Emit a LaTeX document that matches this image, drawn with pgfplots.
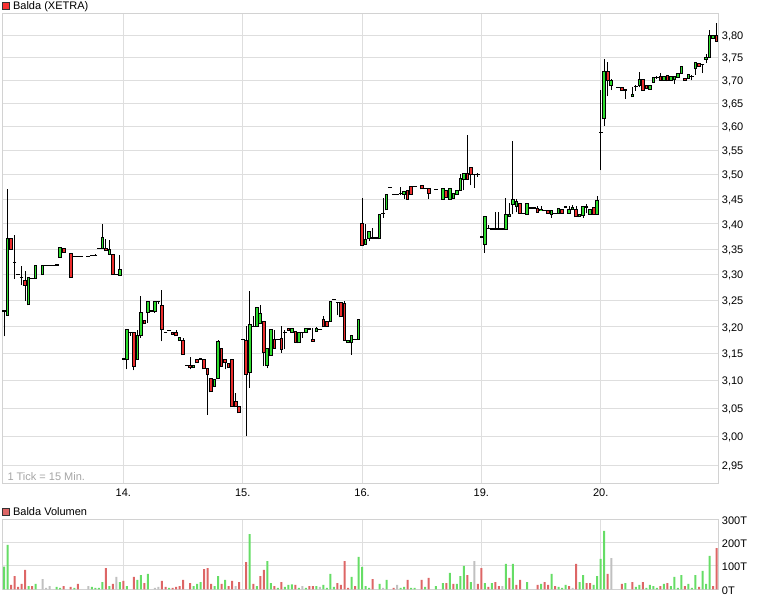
\documentclass[border=0pt]{standalone}
\usepackage{fontspec}
\setmainfont{Liberation Sans}
\usepackage{pgfplots}
\pgfplotsset{compat=1.18}
\usepackage{pgfplotstable}

\definecolor{cgreen}{RGB}{45,220,45}
\definecolor{cred}{RGB}{235,45,45}
\definecolor{vgreen}{RGB}{102,221,102}
\definecolor{vred}{RGB}{221,102,102}
\definecolor{vgray}{RGB}{192,192,192}
\definecolor{gridc}{RGB}{222,222,222}
\definecolor{framec}{RGB}{210,210,210}
\definecolor{notec}{RGB}{165,165,165}
\definecolor{keyred}{RGB}{250,50,50}

\newcommand{\cf}{\fontsize{11}{12.5}\selectfont}

% 15-min candles, 34 per day, index 0 = 13. 9:00
% up candles: i open high low close
\pgfplotstableread{
i o h l c
1 3.222 3.471 3.222 3.370
7 3.242 3.294 3.242 3.294
9 3.292 3.317 3.292 3.317
11 3.300 3.317 3.300 3.317
16 3.334 3.354 3.334 3.354
28 3.352 3.400 3.352 3.373
30 3.340 3.367 3.340 3.350
33 3.299 3.339 3.299 3.310
35 3.140 3.195 3.121 3.195
38 3.139 3.195 3.139 3.183
39 3.183 3.258 3.180 3.227
41 3.227 3.249 3.208 3.249
43 3.230 3.249 3.227 3.249
50 3.174 3.181 3.174 3.181
54 3.125 3.128 3.125 3.128
60 3.090 3.103 3.090 3.103
61 3.104 3.176 3.104 3.173
70 3.116 3.268 3.087 3.205
72 3.201 3.236 3.201 3.236
73 3.207 3.242 3.207 3.225
75 3.128 3.160 3.123 3.160
76 3.146 3.195 3.146 3.195
82 3.189 3.198 3.189 3.198
84 3.170 3.190 3.170 3.190
86 3.190 3.196 3.190 3.196
89 3.192 3.200 3.192 3.196
93 3.210 3.249 3.210 3.249
98 3.171 3.175 3.171 3.175
99 3.170 3.183 3.148 3.183
101 3.177 3.214 3.177 3.214
103 3.359 3.400 3.359 3.369
104 3.370 3.384 3.366 3.384
107 3.370 3.420 3.370 3.420
109 3.428 3.460 3.428 3.460
114 3.460 3.465 3.450 3.465
125 3.450 3.471 3.450 3.471
127 3.450 3.471 3.450 3.471
128 3.451 3.462 3.451 3.462
129 3.459 3.468 3.459 3.468
130 3.468 3.502 3.468 3.493
131 3.491 3.502 3.468 3.502
137 3.359 3.415 3.343 3.415
143 3.389 3.452 3.389 3.420
144 3.415 3.443 3.415 3.420
145 3.439 3.571 3.419 3.450
146 3.435 3.450 3.423 3.445
149 3.420 3.442 3.420 3.442
153 3.426 3.436 3.426 3.430
156 3.420 3.427 3.412 3.427
158 3.421 3.432 3.421 3.432
161 3.421 3.436 3.421 3.430
162 3.428 3.438 3.428 3.434
164 3.414 3.419 3.414 3.419
165 3.416 3.436 3.413 3.436
167 3.420 3.430 3.420 3.430
169 3.420 3.456 3.420 3.448
171 3.617 3.748 3.603 3.719
173 3.689 3.702 3.679 3.700
179 3.665 3.686 3.665 3.669
181 3.689 3.719 3.685 3.701
184 3.680 3.689 3.680 3.689
185 3.695 3.706 3.695 3.706
188 3.700 3.708 3.700 3.708
190 3.700 3.708 3.700 3.708
191 3.701 3.709 3.692 3.709
192 3.707 3.715 3.707 3.715
193 3.715 3.730 3.715 3.730
195 3.705 3.712 3.705 3.712
197 3.725 3.741 3.712 3.739
200 3.746 3.758 3.738 3.750
201 3.750 3.812 3.750 3.800
202 3.793 3.799 3.793 3.799
}\upcandles

% down candles
\pgfplotstableread{
i o h l c
2 3.370 3.370 3.350 3.350
6 3.289 3.307 3.249 3.279
17 3.352 3.352 3.343 3.343
19 3.342 3.342 3.294 3.294
29 3.352 3.370 3.347 3.347
31 3.339 3.339 3.300 3.300
37 3.190 3.190 3.119 3.127
40 3.212 3.212 3.206 3.206
45 3.241 3.271 3.173 3.195
48 3.190 3.190 3.186 3.186
49 3.190 3.195 3.183 3.183
51 3.175 3.180 3.148 3.148
53 3.128 3.143 3.121 3.124
55 3.139 3.139 3.133 3.133
57 3.140 3.140 3.122 3.122
58 3.122 3.122 3.039 3.111
59 3.105 3.105 3.080 3.080
62 3.159 3.159 3.126 3.126
63 3.140 3.140 3.121 3.133
64 3.131 3.131 3.124 3.124
65 3.140 3.140 3.053 3.053
66 3.063 3.077 3.053 3.053
67 3.054 3.054 3.042 3.042
69 3.175 3.201 3.000 3.112
74 3.211 3.211 3.127 3.152
77 3.177 3.195 3.160 3.160
79 3.179 3.201 3.152 3.158
81 3.198 3.198 3.194 3.194
83 3.192 3.192 3.171 3.171
88 3.177 3.198 3.173 3.173
91 3.213 3.220 3.200 3.200
92 3.211 3.211 3.201 3.201
96 3.246 3.246 3.219 3.219
97 3.244 3.249 3.175 3.175
102 3.400 3.452 3.358 3.358
115 3.467 3.467 3.450 3.450
116 3.476 3.476 3.459 3.459
119 3.478 3.478 3.471 3.471
121 3.471 3.471 3.450 3.462
126 3.467 3.467 3.453 3.453
132 3.502 3.582 3.491 3.491
133 3.514 3.514 3.478 3.500
147 3.441 3.441 3.421 3.421
152 3.432 3.436 3.423 3.423
155 3.427 3.427 3.421 3.421
159 3.430 3.430 3.421 3.421
163 3.428 3.436 3.414 3.414
168 3.434 3.434 3.420 3.420
172 3.719 3.740 3.666 3.700
176 3.685 3.685 3.678 3.678
182 3.701 3.701 3.678 3.678
183 3.689 3.689 3.683 3.683
187 3.708 3.715 3.700 3.700
189 3.710 3.713 3.699 3.699
194 3.705 3.705 3.700 3.700
198 3.737 3.737 3.730 3.730
203 3.800 3.828 3.786 3.786
}\downcandles

% open = close
\pgfplotstableread{
i o h l
0 3.230 3.232 3.182
3 3.324 3.378 3.292
4 3.301 3.301 3.301
5 3.294 3.317 3.279
8 3.292 3.292 3.292
12 3.318 3.318 3.318
13 3.318 3.318 3.318
14 3.318 3.318 3.318
15 3.319 3.319 3.319
20 3.336 3.336 3.336
21 3.336 3.336 3.336
22 3.335 3.335 3.335
24 3.335 3.335 3.335
25 3.337 3.337 3.337
26 3.338 3.341 3.338
27 3.352 3.352 3.352
32 3.300 3.300 3.300
34 3.140 3.140 3.140
36 3.190 3.190 3.183
42 3.230 3.230 3.230
44 3.249 3.249 3.243
46 3.190 3.190 3.190
47 3.193 3.193 3.193
52 3.128 3.128 3.128
56 3.140 3.140 3.140
68 3.177 3.177 3.177
71 3.201 3.220 3.201
78 3.176 3.176 3.176
80 3.190 3.195 3.158
85 3.190 3.190 3.180
87 3.196 3.196 3.196
90 3.195 3.195 3.195
94 3.252 3.252 3.252
95 3.247 3.247 3.222
100 3.177 3.177 3.177
105 3.372 3.392 3.372
106 3.372 3.372 3.372
108 3.421 3.452 3.412
110 3.473 3.473 3.473
111 3.460 3.460 3.460
112 3.460 3.460 3.460
113 3.462 3.474 3.458
117 3.475 3.475 3.475
120 3.472 3.472 3.472
123 3.470 3.470 3.470
134 3.500 3.500 3.473
135 3.500 3.504 3.496
136 3.374 3.374 3.374
138 3.391 3.398 3.391
139 3.390 3.390 3.390
140 3.390 3.425 3.390
141 3.390 3.425 3.390
142 3.390 3.390 3.390
148 3.421 3.421 3.421
150 3.432 3.432 3.432
151 3.432 3.432 3.432
154 3.427 3.427 3.427
157 3.421 3.421 3.421
160 3.434 3.434 3.434
166 3.434 3.440 3.421
170 3.589 3.679 3.509
175 3.685 3.685 3.685
177 3.679 3.679 3.660
180 3.687 3.690 3.678
186 3.706 3.709 3.703
196 3.708 3.712 3.700
199 3.735 3.735 3.716
}\flatcandles

% volume in thousand shares
\pgfplotstableread{
i v
0 97
1 190
7 14
9 23
15 10
16 6
20 6
25 10
26 6
27 6
28 31
30 14
33 31
35 14
38 40
39 61
41 66
47 6
54 14
55 23
56 31
60 14
61 57
63 40
70 237
72 14
75 121
76 27
78 6
80 10
81 19
82 21
84 6
86 6
89 14
91 19
92 6
93 66
94 10
99 53
101 139
102 96
103 14
104 6
107 23
109 40
113 6
114 10
116 6
117 6
120 10
123 14
125 27
127 70
129 23
130 57
131 100
133 31
137 27
139 27
143 109
145 109
149 31
153 23
156 66
158 10
159 6
160 19
164 31
165 61
168 19
169 57
170 130
171 250
177 27
180 10
181 19
183 6
184 19
185 14
186 6
188 23
190 14
191 53
192 6
193 61
195 23
196 6
197 61
199 79
200 23
201 143
}\volup

\pgfplotstableread{
i v
2 19
3 57
4 10
5 23
6 83
8 14
17 14
19 10
21 23
29 91
31 23
34 36
37 53
40 27
45 36
46 10
48 6
49 10
50 14
51 40
53 27
57 87
58 91
59 23
62 23
64 14
65 36
67 31
69 117
71 23
73 57
74 83
77 14
79 31
83 19
87 14
88 14
95 27
96 19
97 121
98 6
100 14
105 44
111 6
115 40
119 40
121 49
126 27
128 23
132 61
135 23
136 91
138 10
140 31
141 14
144 49
146 19
147 40
152 19
154 31
155 19
157 14
161 14
163 109
166 27
167 27
172 66
176 23
179 31
182 31
187 14
189 27
194 14
198 10
202 14
203 177
}\voldown

\pgfplotstableread{
i v
11 44
12 6
13 14
24 14
32 53
43 6
44 10
66 14
85 14
90 10
108 6
112 19
134 121
142 14
162 6
173 134
}\volflat

\pgfplotsset{
  chart/.style={
    scale only axis, width=716pt, anchor=south west,
    xmin=-0.5, xmax=203.5,
    xtick={34,68,102,136,170},
    xmajorgrids, ymajorgrids,
    grid style={gridc, line width=1pt},
    axis line style={framec, line width=1pt},
    major tick length=0pt, tick style={draw=none},
    yticklabel pos=right,
    tick label style={font=\cf},
    yticklabel style={anchor=west, inner sep=0pt, xshift=3.4pt, yshift=-1pt},
    xticklabel style={anchor=north, inner sep=0pt, yshift=-5.7pt},
    legend style={at={(0,1)}, anchor=south west, draw=none, fill=none,
      inner sep=0pt, outer sep=0pt, yshift=2.5pt, font=\cf,
      nodes={inner sep=0pt},
      /tikz/every odd column/.append style={column sep=3.5pt}},
    legend cell align=left,
  },
  wick/.style={draw=none, mark=none, forget plot,
    error bars/.cd, y dir=plus, y explicit, error mark=none,
    error bar style={draw=black, line width=1pt}},
  body edge/.style={draw=none, mark=none, forget plot,
    error bars/.cd, y dir=plus, y explicit, error mark=none,
    error bar style={draw=black, line width=3.6pt,
      shorten <=-0.5pt, shorten >=-0.5pt}},
  body fill/.style={draw=none, mark=none, forget plot,
    error bars/.cd, y dir=plus, y explicit, error mark=none,
    error bar style={draw=#1, line width=1.6pt,
      shorten <=0.5pt, shorten >=0.5pt}},
  volbar/.style={ybar, bar width=2pt, bar shift=0pt, draw=none, fill=#1, forget plot},
  key/.style={legend image code/.code={\draw[draw=black!80, fill=#1, line width=0.7pt] (0pt,-3.3pt) rectangle (6.6pt,3.3pt);}},
}

\begin{document}
\begin{tikzpicture}
\useasboundingbox (0,0) rectangle (760pt,598pt);

% price panel
\begin{axis}[chart, at={(2.3pt,114.7pt)}, height=470pt,
  ymode=log, ymin=2.9184, ymax=3.8489,
  ytick={2.95,3.00,3.05,3.10,3.15,3.20,3.25,3.30,3.35,3.40,3.45,3.50,3.55,3.60,3.65,3.70,3.75,3.80},
  yticklabels={{2,95},{3,00},{3,05},{3,10},{3,15},{3,20},{3,25},{3,30},{3,35},{3,40},{3,45},{3,50},{3,55},{3,60},{3,65},{3,70},{3,75},{3,80}},
  xticklabels={14.,15.,16.,19.,20.},
]
\addlegendimage{key=keyred}
\addlegendentry{Balda (XETRA)}

\addplot[wick] table[x=i, y=l, y error expr=\thisrow{h}-\thisrow{l}] {\upcandles};
\addplot[wick] table[x=i, y=l, y error expr=\thisrow{h}-\thisrow{l}] {\downcandles};
\addplot[wick] table[x=i, y=l, y error expr=\thisrow{h}-\thisrow{l}] {\flatcandles};

\addplot[body edge] table[x=i, y=o, y error expr=\thisrow{c}-\thisrow{o}] {\upcandles};
\addplot[body edge] table[x=i, y=c, y error expr=\thisrow{o}-\thisrow{c}] {\downcandles};
\addplot[body fill=cgreen] table[x=i, y=o, y error expr=\thisrow{c}-\thisrow{o}] {\upcandles};
\addplot[body fill=cred] table[x=i, y=c, y error expr=\thisrow{o}-\thisrow{c}] {\downcandles};

\addplot[only marks, mark=-, mark size=1.8pt, mark options={draw=black, line width=1.2pt}, forget plot]
  table[x=i, y=o] {\flatcandles};

\node[anchor=base west, inner sep=0pt, font=\cf, text=notec, xshift=5pt, yshift=2.6pt]
  at (rel axis cs:0,0) {1 Tick = 15 Min.};
\end{axis}

% volume panel
\begin{axis}[chart, at={(2.3pt,8.7pt)}, height=70pt,
  ymin=0, ymax=300,
  ytick={0,100,200,300},
  yticklabels={0T,100T,200T,300T},
  xticklabels={},
]
\addlegendimage{key=vred}
\addlegendentry{Balda Volumen}

\addplot[volbar=vgreen] table[x=i, y=v] {\volup};
\addplot[volbar=vred] table[x=i, y=v] {\voldown};
\addplot[volbar=vgray] table[x=i, y=v] {\volflat};
\end{axis}
\end{tikzpicture}
\end{document}
